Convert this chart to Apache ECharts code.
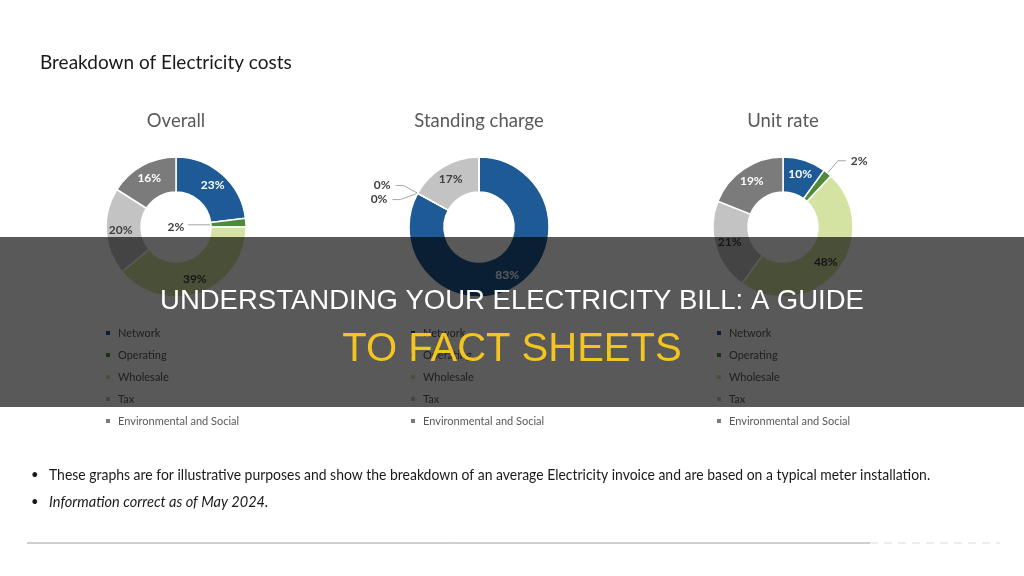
<!DOCTYPE html>
<html lang="en">
<head>
    <meta charset="UTF-8">
    <title>Breakdown of Electricity costs</title>
    <script src="https://cdn.jsdelivr.net/npm/echarts@6.0.0/dist/echarts.min.js"></script>
</head>
<body style="margin:0;background:#fff;">
    <div id="main" style="width:1024px;height:576px;"></div>
    <script type="text/javascript">
        // categories and colours (one per slice)
        var categories = ['Network', 'Operating', 'Wholesale', 'Tax', 'Environmental and Social'];
        var sliceColors = ['#1d5a96', '#4f8a3a', '#d4e2a2', '#c3c3c3', '#7b7b7b'];
        var whiteLabel = [true, false, false, false, true];

        var chartTitles = ['Overall', 'Standing charge', 'Unit rate'];
        var overallValues = [23, 2, 39, 20, 16];
        var standingValues = [83, 0, 0, 17, 0];
        var unitValues = [10, 2, 48, 21, 19];

        var notes = [
            'These graphs are for illustrative purposes and show the breakdown of an average Electricity invoice and are based on a typical meter installation.',
            'Information correct as of May 2024.'
        ];
        var banner = ['UNDERSTANDING YOUR ELECTRICITY BILL: A GUIDE', 'TO FACT SHEETS'];

        var centers = [176, 479, 783];
        var cy = 227;
        var innerR = 35, outerR = 70;

        function makePie(i, values) {
            return {
                type: 'pie',
                name: chartTitles[i],
                center: [centers[i], cy],
                radius: [innerR, outerR],
                startAngle: 90,
                clockwise: true,
                avoidLabelOverlap: true,
                emphasis: { disabled: true },
                itemStyle: { borderColor: '#fff', borderWidth: 1.5 },
                label: {
                    position: 'inside',
                    formatter: '{c}%',
                    fontFamily: 'Lato',
                    fontWeight: 'bold',
                    fontSize: 12,
                    color: '#404040'
                },
                labelLine: { show: true, length: 16, length2: 8, lineStyle: { color: '#a6a6a6', width: 1 } },
                data: values.map(function (v, k) {
                    var item = { name: categories[k], value: v, itemStyle: { color: sliceColors[k] } };
                    if (v < 5) {
                        item.label = { position: 'outside', color: '#404040' };
                        // zero slice sitting at the top is not labelled in the original
                        if (v === 0 && k === categories.length - 1) item.label.show = false;
                    } else {
                        item.label = { color: whiteLabel[k] ? '#fff' : '#404040' };
                    }
                    return item;
                })
            };
        }

        var series = [makePie(0, overallValues), makePie(1, standingValues), makePie(2, unitValues)];

        // the small "Operating" label of the first chart sits in the hole
        series[0].labelLayout = function (p) {
            if (p.dataIndex !== 1) return;
            var cx = centers[0];
            var a = (overallValues[0] + overallValues[1] / 2) / 100 * 2 * Math.PI;
            var px = cx + innerR * Math.sin(a), py = cy - innerR * Math.cos(a);
            return {
                x: cx, y: cy, align: 'center', verticalAlign: 'middle',
                labelLinePoints: [[px, py], [cx + 12, py], [cx + 12, py]]
            };
        };

        var titles = [{
            text: 'Breakdown of Electricity costs',
            left: 40, top: 53, padding: 0,
            textStyle: { fontFamily: 'Lato', fontSize: 19, fontWeight: 'normal', color: '#1a1a1a' }
        }];
        chartTitles.forEach(function (t, i) {
            titles.push({
                text: t, left: centers[i], top: 112, padding: 0, textAlign: 'center',
                textStyle: { fontFamily: 'Lato', fontSize: 18.5, fontWeight: 'normal', color: '#595959' }
            });
        });

        var legendLeft = [104, 409, 715];
        var legends = legendLeft.map(function (x) {
            return {
                orient: 'vertical', left: x, top: 327, padding: 0,
                icon: 'rect', itemWidth: 6, itemHeight: 6, itemGap: 10,
                selectedMode: false,
                data: categories,
                textStyle: { fontFamily: 'Lato', fontSize: 11, color: '#595959', lineHeight: 12, padding: [0, 0, 0, 2] }
            };
        });

        // condensed look of the notes (horizontal squeeze per line)
        var noteSqueeze = [0.93, 0.97];
        var graphics = [];
        notes.forEach(function (n, i) {
            var y = 475 + i * 27;
            graphics.push({ type: 'text', x: 31, y: y, style: { text: '•', fill: '#1a1a1a', font: '13px Lato', textVerticalAlign: 'middle' } });
            graphics.push({ type: 'text', x: 49, y: y, scaleX: noteSqueeze[i], style: {
                text: n, fill: '#1a1a1a', textVerticalAlign: 'middle',
                font: (i === 1 ? 'italic ' : '') + '15px Lato'
            } });
        });
        graphics.push({ type: 'line', shape: { x1: 27, y1: 543, x2: 870, y2: 543 }, style: { stroke: '#a0a0a0', lineWidth: 1 } });
        graphics.push({ type: 'line', shape: { x1: 870, y1: 543, x2: 1000, y2: 543 }, style: { stroke: '#dcdcdc', lineWidth: 1, lineDash: [8, 6] } });

        // dark banner over the middle of the picture
        graphics.push({ type: 'rect', z: 100, shape: { x: 0, y: 237, width: 1024, height: 170 }, style: { fill: 'rgba(0,0,0,0.65)' } });
        graphics.push({ type: 'text', z: 101, x: 512, y: 301, style: {
            text: banner[0], fill: '#ffffff', font: '27.5px "Liberation Sans"', textAlign: 'center', textVerticalAlign: 'middle'
        } });
        graphics.push({ type: 'text', z: 101, x: 512, y: 350, style: {
            text: banner[1], fill: '#f4c520', font: '40px "Liberation Sans"', textAlign: 'center', textVerticalAlign: 'middle'
        } });

        var myChart = echarts.init(document.getElementById('main'));
        myChart.setOption({
            backgroundColor: '#ffffff',
            animation: false,
            title: titles,
            legend: legends,
            series: series,
            graphic: graphics
        });
    </script>
</body>
</html>
